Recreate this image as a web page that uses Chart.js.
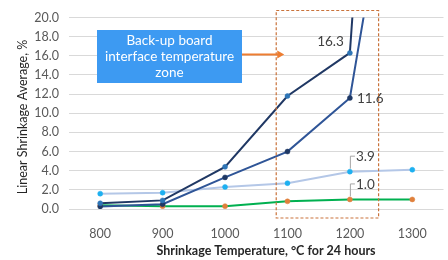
<!DOCTYPE html>
<html>
<head>
<meta charset="utf-8">
<script src="https://cdn.jsdelivr.net/npm/chart.js@4.4.1/dist/chart.umd.min.js"></script>
<style>
  html, body { margin: 0; padding: 0; background: #fff; }
  #wrap { position: relative; width: 448px; height: 260px; }
</style>
</head>
<body>
<div id="wrap"><canvas id="chart"></canvas></div>
<script>
// temperatures on the x axis
const temps = ["800", "900", "1000", "1100", "1200", "1300"];
// linear shrinkage averages, %
const seriesA = [0.6, 0.9, 4.4, 11.8, 16.3, 110];
const seriesB = [0.25, 0.5, 3.3, 6.0, 11.6, 50];
const seriesC = [1.6, 1.7, 2.3, 2.7, 3.9, 4.1];
const seriesD = [0.4, 0.3, 0.3, 0.8, 1.0, 1.0];
const yTicks = [0, 2, 4, 6, 8, 10, 12, 14, 16, 18, 20];

const FONT = "Lato, 'Open Sans', sans-serif";

// labels near the 1200 points
const pointLabels = [
  { ds: 0, idx: 4, text: "16.3", mode: "left" },
  { ds: 1, idx: 4, text: "11.6", mode: "right" },
  { ds: 2, idx: 4, text: "3.9", mode: "leader", rise: 16 },
  { ds: 3, idx: 4, text: "1.0", mode: "leader", rise: 16 }
];

const decorPlugin = {
  id: "decor",
  afterDatasetsDraw(chart) {
    const ctx = chart.ctx;
    const x = chart.scales.x;
    const y = chart.scales.y;
    const step = x.getPixelForValue(1) - x.getPixelForValue(0);

    // point labels
    ctx.save();
    ctx.font = "13.5px " + FONT;
    ctx.fillStyle = "#404040";
    ctx.textBaseline = "middle";
    pointLabels.forEach((l) => {
      const pt = chart.getDatasetMeta(l.ds).data[l.idx];
      if (l.mode === "left") {
        ctx.textAlign = "right";
        ctx.fillText(l.text, pt.x - 6, pt.y - 11);
      } else if (l.mode === "right") {
        ctx.textAlign = "left";
        ctx.fillText(l.text, pt.x + 7, pt.y + 1);
      } else {
        const ty = pt.y - l.rise;
        ctx.strokeStyle = "#a6a6a6";
        ctx.lineWidth = 1;
        ctx.beginPath();
        ctx.moveTo(pt.x + 0.5, pt.y - 3);
        ctx.lineTo(pt.x + 0.5, ty + 0.5);
        ctx.lineTo(pt.x + 5, ty + 0.5);
        ctx.stroke();
        ctx.textAlign = "left";
        ctx.fillText(l.text, pt.x + 6, ty + 1);
      }
    });
    ctx.restore();

    // dashed zone rectangle around 1100-1200
    const left = x.getPixelForValue(3) - 0.18 * step;
    const right = x.getPixelForValue(4) + 0.46 * step;
    const top = y.getPixelForValue(20) - 7;
    const bottom = y.getPixelForValue(0) + 9;
    ctx.save();
    ctx.strokeStyle = "#c9723a";
    ctx.lineWidth = 1.2;
    ctx.setLineDash([3, 2]);
    ctx.strokeRect(left, top, right - left, bottom - top);
    ctx.restore();

    // callout box
    const bx = 97, by = 30, bw = 145, bh = 53;
    ctx.save();
    ctx.fillStyle = "#3d9af2";
    ctx.fillRect(bx, by, bw, bh);
    ctx.fillStyle = "#ffffff";
    ctx.font = "13.5px " + FONT;
    ctx.textAlign = "center";
    ctx.textBaseline = "middle";
    ["Back-up board", "interface temperature", "zone"].forEach((s, i) => {
      ctx.fillText(s, bx + bw / 2, by + 11 + i * 16);
    });
    // arrow to zone
    const ay = 54.5;
    ctx.strokeStyle = "#ed7d31";
    ctx.fillStyle = "#ed7d31";
    ctx.lineWidth = 2;
    ctx.beginPath();
    ctx.moveTo(bx + bw, ay);
    ctx.lineTo(left + 2, ay);
    ctx.stroke();
    ctx.beginPath();
    ctx.moveTo(left + 8, ay);
    ctx.lineTo(left + 1, ay - 4);
    ctx.lineTo(left + 1, ay + 4);
    ctx.closePath();
    ctx.fill();
    ctx.restore();

    // axis titles
    ctx.save();
    ctx.fillStyle = "#262626";
    ctx.textAlign = "center";
    ctx.textBaseline = "middle";
    ctx.font = "bold 12.5px " + FONT;
    ctx.fillText("Shrinkage Temperature, \u00b0C for 24 hours", 266, 251);
    ctx.translate(23, 117);
    ctx.rotate(-Math.PI / 2);
    ctx.font = "12.5px " + FONT;
    ctx.fillText("Linear Shrinkage Average, %", 0, 0);
    ctx.restore();
  }
};

new Chart(document.getElementById("chart"), {
  type: "line",
  data: {
    labels: temps,
    datasets: [
      {
        data: seriesA,
        borderColor: "#203864",
        borderWidth: 2,
        pointRadius: 2.5,
        pointBorderWidth: 0.5,
        pointBackgroundColor: "#2e75b6",
        pointBorderColor: "#2e75b6",
        tension: 0
      },
      {
        data: seriesB,
        borderColor: "#2f5597",
        borderWidth: 2,
        pointRadius: 2.5,
        pointBorderWidth: 0.5,
        pointBackgroundColor: "#1f3864",
        pointBorderColor: "#1f3864",
        tension: 0
      },
      {
        data: seriesC,
        borderColor: "#b4c7e7",
        borderWidth: 2,
        pointRadius: 2.5,
        pointBorderWidth: 0.5,
        pointBackgroundColor: "#1eb0f0",
        pointBorderColor: "#1eb0f0",
        tension: 0
      },
      {
        data: seriesD,
        borderColor: "#00b050",
        borderWidth: 2,
        pointRadius: 2.5,
        pointBorderWidth: 0.5,
        pointBackgroundColor: "#e0803c",
        pointBorderColor: "#e0803c",
        tension: 0
      }
    ]
  },
  options: {
    responsive: true,
    maintainAspectRatio: false,
    animation: false,
    layout: { padding: { top: 17, right: 0, left: 0, bottom: 0 } },
    plugins: {
      legend: { display: false },
      tooltip: { enabled: false }
    },
    scales: {
      x: {
        offset: true,
        grid: { display: false },
        border: { display: false },
        ticks: {
          color: "#595959",
          font: { family: FONT, size: 12.5 },
          padding: 9,
          maxRotation: 0
        },
        afterFit: (s) => { s.height = 51; }
      },
      y: {
        min: 0,
        max: 20,
        afterBuildTicks: (s) => { s.ticks = yTicks.map((v) => ({ value: v })); },
        grid: { color: "#d9d9d9", drawTicks: false },
        border: { display: false },
        ticks: {
          color: "#595959",
          font: { family: FONT, size: 12.5 },
          padding: 10,
          callback: (v) => v.toFixed(1)
        },
        afterFit: (s) => { s.width = 69; }
      }
    }
  },
  plugins: [decorPlugin]
});
</script>
</body>
</html>
